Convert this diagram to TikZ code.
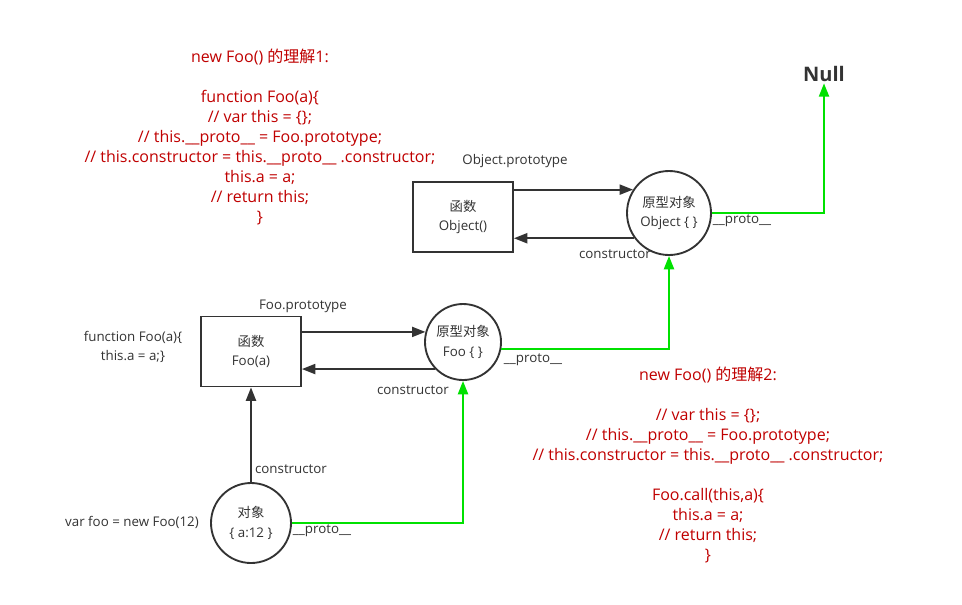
\documentclass[tikz,border=0pt]{standalone}
\usepackage{fontspec}
\setmainfont{Open Sans}
\newfontfamily\cjk{Noto Sans CJK SC}
\usetikzlibrary{arrows.meta,calc}
\definecolor{redtxt}{RGB}{192,0,0}
\definecolor{linec}{RGB}{51,51,51}
\definecolor{grn}{RGB}{0,225,0}
\begin{document}
\begin{tikzpicture}[x=0.75pt,y=-0.75pt,
  fbox/.style={draw=linec, line width=1.4pt, minimum width=75pt, minimum height=52.5pt, align=center, font=\fontsize{10}{14.5}\selectfont, text=linec, inner sep=0pt},
  pcirc/.style={circle, draw=linec, line width=1.4pt, inner sep=0pt, align=center, font=\fontsize{10}{14.5}\selectfont, text=linec},
  lbl/.style={font=\fontsize{10}{14.5}\selectfont, text=linec, inner sep=0pt, align=center},
  conn/.style={draw=linec, line width=1.4pt, -{Triangle[length=10pt,width=7.5pt]}},
  gconn/.style={draw=grn, line width=1.6pt, -{Triangle[length=10pt,width=7.5pt]}},
  note/.style={text=redtxt, align=center, font=\fontsize{12}{15}\selectfont, inner sep=0pt}]
\useasboundingbox (0,0) rectangle (962,604);
\fill[white] (0,0) rectangle (962,604);

% Object level
\node[fbox] (objbox) at (463,217) {{\cjk 函数}\\Object()};
\node[pcirc, minimum size=63pt] (objc) at (669,213) {{\cjk 原型对象}\\Object \{ \}};
\node[text=linec, font=\bfseries\fontsize{15}{18}\selectfont, inner sep=1pt] (null) at (824,74) {Null};

\draw[conn] (objc.147 -| objbox.east) -- (objc.147);
\draw[conn] (objc.216) -- (objc.216 -| objbox.east);
\draw[gconn] (objc.east) -| (null.south);

\node[lbl] (lop) at (515,161) {Object.prototype};
\node[lbl] (loc) at (615,254) {constructor};
\node[lbl] (lopr) at (742,221) {\_\_proto\_\_};

% Foo level
\node[fbox] (foobox) at (251,351.5) {{\cjk 函数}\\Foo(a)};
\node[pcirc, minimum size=57pt] (fooc) at (463,342) {{\cjk 原型对象}\\Foo \{ \}};
\draw[conn] (fooc.165 -| foobox.east) -- (fooc.165);
\draw[conn] (fooc.224) -- (fooc.224 -| foobox.east);
\draw[gconn] (fooc.-10) -| (objc.south);

\node[lbl] (lfp) at (303,306) {Foo.prototype};
\node[lbl] (lfc) at (413,390) {constructor};
\node[lbl] (lfpr) at (533,360) {\_\_proto\_\_};
\node[lbl] (lfn) at (133,347) {function Foo(a)\{\\this.a = a;\}};

% instance
\node[pcirc, minimum size=60pt] (inst) at (251,523) {{\cjk 对象}\\\{ a:12 \}};
\draw[conn] (inst.north) -- (foobox.south);
\draw[gconn] (inst.east) -| (fooc.south);
\node[lbl] (lic) at (291,469) {constructor};
\node[lbl] (lipr) at (322,531) {\_\_proto\_\_};
\node[lbl] (liv) at (132,522) {var foo = new Foo(12)};

% notes
\node[note] (note1) at (260,137) {new Foo() {\cjk 的理解}1:\\[15pt]
function Foo(a)\{\\
// var this = \{\};\\
// this.\_\_proto\_\_ = Foo.prototype;\\
// this.constructor = this.\_\_proto\_\_ .constructor;\\
this.a = a;\\
// return this;\\
\}};
\node[note] (note2) at (708,465.5) {new Foo() {\cjk 的理解}2:\\[15pt]
// var this = \{\};\\
// this.\_\_proto\_\_ = Foo.prototype;\\
// this.constructor = this.\_\_proto\_\_ .constructor;\\[15pt]
Foo.call(this,a)\{\\
this.a = a;\\
// return this;\\
\}};
\end{tikzpicture}
\end{document}
